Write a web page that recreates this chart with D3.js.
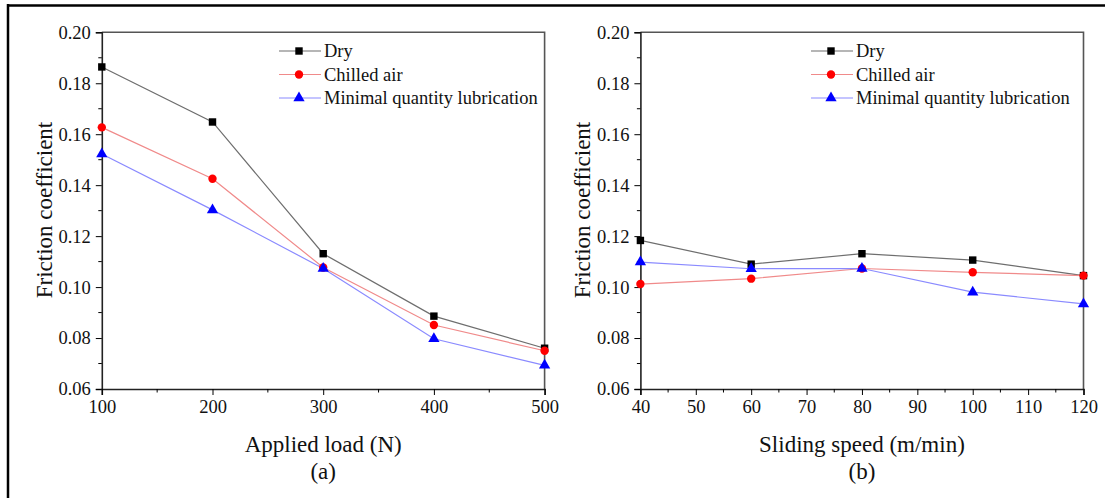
<!DOCTYPE html>
<html>
<head>
<meta charset="utf-8">
<script src="https://cdn.jsdelivr.net/npm/d3@7"></script>
<style>
  body { margin: 0; background: #fff; }
</style>
</head>
<body>
<div id="chart"></div>
<script>
// panel (a): applied load
var loads = [100, 200, 300, 400, 500];
var dryLoad = [0.1864, 0.1648, 0.1131, 0.0886, 0.0760];
var chilledLoad = [0.1627, 0.1425, 0.1077, 0.0851, 0.0750];
var mqlLoad = [0.1522, 0.1303, 0.1073, 0.0797, 0.0693];

// panel (b): sliding speed
var speeds = [40, 60, 80, 100, 120];
var drySpeed = [0.1183, 0.1090, 0.1131, 0.1106, 0.1045];
var chilledSpeed = [0.1012, 0.1033, 0.1073, 0.1058, 0.1045];
var mqlSpeed = [0.1098, 0.1072, 0.1073, 0.0980, 0.0934];

var yTicks = [0.06, 0.08, 0.10, 0.12, 0.14, 0.16, 0.18, 0.20];
var loadTicks = [100, 200, 300, 400, 500];
var speedTicks = [40, 50, 60, 70, 80, 90, 100, 110, 120];

var seriesNames = ["Dry", "Chilled air", "Minimal quantity lubrication"];
var lineColors = ["#6e6e6e", "#f08a8a", "#8a8aff"];
var markColors = ["#000000", "#ff0000", "#0000ff"];
var markTypes = [d3.symbolSquare, d3.symbolCircle, d3.symbolTriangle];
var markSizes = [55, 55, 55];

var FONT = "'Liberation Serif', 'DejaVu Serif', 'Times New Roman', serif";
var W = 1106, H = 498;

var svg = d3.select("#chart").append("svg")
  .attr("width", W)
  .attr("height", H)
  .attr("font-family", FONT);

// outer frame (top and left only)
svg.append("line").attr("x1", 8).attr("x2", 1105).attr("y1", 5.5).attr("y2", 5.5)
  .attr("stroke", "#000").attr("stroke-width", 2.5);
svg.append("line").attr("x1", 8).attr("x2", 8).attr("y1", 4).attr("y2", H)
  .attr("stroke", "#000").attr("stroke-width", 2.5);

function drawPanel(opt) {
  var x = d3.scaleLinear().domain(opt.xDomain).range([opt.left, opt.right]);
  var y = d3.scaleLinear().domain([0.06, 0.20]).range([389, 32.3]);
  var g = svg.append("g");

  // frame top + right
  g.append("path")
    .attr("d", "M" + x.range()[0] + "," + y(0.20) + "H" + x.range()[1] + "V" + y(0.06))
    .attr("fill", "none").attr("stroke", "#555").attr("stroke-width", 1.6);

  // y axis
  var yAxis = d3.axisLeft(y).tickValues(yTicks).tickFormat(d3.format(".2f")).tickSize(6).tickPadding(5);
  var ya = g.append("g").attr("transform", "translate(" + opt.left + ",0)").call(yAxis);
  var yMinor = d3.range(0.07, 0.20, 0.02);
  ya.selectAll(".minor").data(yMinor).enter().append("line")
    .attr("class", "minor").attr("x1", 0).attr("x2", -3.5)
    .attr("y1", function (d) { return y(d); }).attr("y2", function (d) { return y(d); })
    .attr("stroke", "#000");

  // x axis
  var xAxis = d3.axisBottom(x).tickValues(opt.xTicks).tickSize(6).tickPadding(5);
  var xa = g.append("g").attr("transform", "translate(0," + y(0.06) + ")").call(xAxis);
  xa.selectAll(".minor").data(opt.xMinor).enter().append("line")
    .attr("class", "minor").attr("y1", 0).attr("y2", 3.5)
    .attr("x1", function (d) { return x(d); }).attr("x2", function (d) { return x(d); })
    .attr("stroke", "#000");

  [ya, xa].forEach(function (a) {
    a.attr("font-family", FONT);
    a.select(".domain").attr("stroke", "#222").attr("stroke-width", 1.6);
    a.selectAll(".tick line").attr("stroke", "#000");
    a.selectAll("text").style("font-size", "18.5px").style("font-family", FONT).attr("fill", "#111");
  });

  // lines and markers
  opt.series.forEach(function (vals, i) {
    var pts = opt.xVals.map(function (v, j) { return [v, vals[j]]; });
    var line = d3.line().x(function (d) { return x(d[0]); }).y(function (d) { return y(d[1]); });
    g.append("path").datum(pts).attr("d", line)
      .attr("fill", "none").attr("stroke", lineColors[i]).attr("stroke-width", 1.2);
  });
  opt.series.forEach(function (vals, i) {
    var pts = opt.xVals.map(function (v, j) { return [v, vals[j]]; });
    g.selectAll(".m" + i).data(pts).enter().append("path")
      .attr("class", "m" + i)
      .attr("d", d3.symbol().type(markTypes[i]).size(markSizes[i]))
      .attr("transform", function (d) { return "translate(" + x(d[0]) + "," + y(d[1]) + ")"; })
      .attr("fill", markColors[i]);
  });

  // legend
  seriesNames.forEach(function (name, i) {
    var ly = 51 + i * 23.5;
    g.append("line").attr("x1", opt.legX).attr("x2", opt.legX + 42)
      .attr("y1", ly).attr("y2", ly).attr("stroke", lineColors[i]).attr("stroke-width", 1.2);
    g.append("path").attr("d", d3.symbol().type(markTypes[i]).size(markSizes[i]))
      .attr("transform", "translate(" + (opt.legX + 20) + "," + ly + ")")
      .attr("fill", markColors[i]);
    g.append("text").attr("x", opt.legX + 45).attr("y", ly + 6)
      .style("font-family", FONT).style("font-size", "18.5px").attr("fill", "#111").text(name);
  });

  // axis titles
  g.append("text")
    .attr("transform", "translate(" + opt.yLabX + ",210) rotate(-90)")
    .attr("text-anchor", "middle").style("font-family", FONT).style("font-size", "23px")
    .attr("fill", "#111").text("Friction coefficient");
  g.append("text").attr("x", (opt.left + opt.right) / 2).attr("y", 452)
    .attr("text-anchor", "middle").style("font-family", FONT).style("font-size", "23px")
    .attr("fill", "#111").text(opt.xTitle);
  g.append("text").attr("x", (opt.left + opt.right) / 2).attr("y", 479)
    .attr("text-anchor", "middle").style("font-family", FONT).style("font-size", "23px")
    .attr("fill", "#111").text(opt.tag);
}

drawPanel({
  left: 101.8, right: 544.6, xDomain: [100, 500],
  xTicks: loadTicks, xMinor: [150, 250, 350, 450],
  xVals: loads, series: [dryLoad, chilledLoad, mqlLoad],
  legX: 279, yLabX: 52, xTitle: "Applied load (N)", tag: "(a)"
});

drawPanel({
  left: 640.4, right: 1083.5, xDomain: [40, 120],
  xTicks: speedTicks, xMinor: [45, 55, 65, 75, 85, 95, 105, 115],
  xVals: speeds, series: [drySpeed, chilledSpeed, mqlSpeed],
  legX: 811, yLabX: 590, xTitle: "Sliding speed (m/min)", tag: "(b)"
});
</script>
</body>
</html>
